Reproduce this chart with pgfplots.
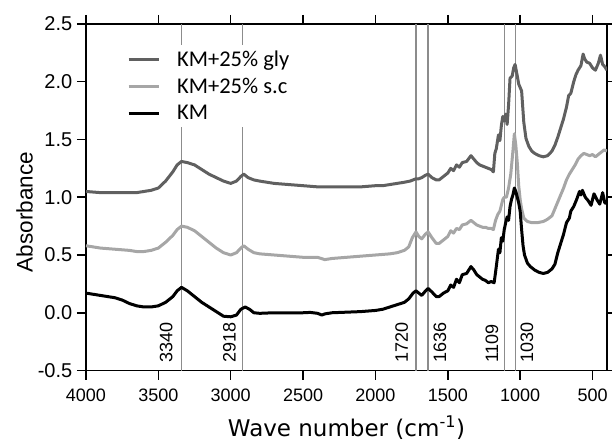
\documentclass[border=0pt]{standalone}
\usepackage{fontspec}
\setmainfont{Liberation Sans}
\newfontfamily\carlito{Carlito}
\newfontfamily\dejavu{DejaVu Sans}
\usepackage{pgfplots}
\pgfplotsset{compat=1.18}
\definecolor{glyc}{HTML}{606060}
\definecolor{scc}{HTML}{A6A6A6}
\definecolor{vlc}{HTML}{8C8C8C}

\pgfplotstableread{
w A
4000 1.05
3900 1.04
3800 1.04
3700 1.04
3650 1.04
3600 1.05
3550 1.06
3500 1.08
3450 1.14
3400 1.22
3370 1.28
3340 1.31
3300 1.30
3250 1.28
3200 1.24
3150 1.20
3100 1.17
3050 1.14
3000 1.12
2960 1.14
2930 1.18
2910 1.20
2880 1.17
2840 1.15
2800 1.14
2700 1.12
2600 1.11
2500 1.10
2400 1.09
2300 1.09
2200 1.09
2100 1.09
2000 1.10
1950 1.10
1900 1.11
1850 1.12
1800 1.13
1760 1.14
1720 1.16
1700 1.16
1680 1.17
1655 1.19
1636 1.20
1610 1.17
1580 1.15
1560 1.15
1530 1.18
1500 1.21
1480 1.25
1460 1.23
1440 1.28
1420 1.26
1400 1.30
1370 1.31
1340 1.36
1320 1.33
1300 1.30
1280 1.28
1260 1.27
1240 1.26
1220 1.25
1200 1.24
1185 1.22
1175 1.38
1165 1.42
1150 1.54
1140 1.49
1130 1.62
1120 1.70
1110 1.66
1100 1.72
1090 1.63
1080 1.80
1070 2.03
1055 2.05
1045 2.12
1035 2.15
1020 2.05
1010 1.98
1000 1.95
990 1.92
975 1.65
960 1.51
940 1.44
920 1.40
900 1.38
870 1.36
840 1.35
810 1.36
780 1.40
760 1.45
740 1.52
720 1.60
700 1.68
680 1.78
665 1.88
650 1.90
630 2.00
615 2.06
600 2.10
580 2.14
565 2.24
555 2.20
540 2.17
520 2.16
500 2.12
480 2.10
460 2.16
445 2.23
430 2.15
415 2.13
400 2.10
}\gly

\pgfplotstableread{
w A
4000 0.58
3900 0.56
3800 0.55
3700 0.54
3650 0.53
3600 0.53
3550 0.54
3500 0.56
3450 0.61
3400 0.67
3370 0.72
3340 0.75
3300 0.74
3250 0.71
3200 0.66
3150 0.61
3100 0.56
3050 0.52
3000 0.50
2960 0.52
2930 0.56
2910 0.58
2880 0.55
2840 0.52
2800 0.51
2700 0.50
2600 0.49
2500 0.48
2400 0.48
2350 0.46
2300 0.47
2200 0.48
2100 0.49
2000 0.50
1900 0.51
1850 0.52
1800 0.54
1770 0.57
1745 0.65
1720 0.70
1700 0.66
1680 0.64
1655 0.68
1636 0.70
1610 0.65
1580 0.60
1560 0.60
1530 0.63
1500 0.66
1480 0.71
1460 0.69
1440 0.73
1420 0.72
1400 0.76
1370 0.77
1340 0.80
1320 0.78
1300 0.76
1280 0.75
1260 0.74
1240 0.74
1220 0.73
1200 0.73
1185 0.72
1170 0.80
1155 0.85
1140 0.88
1120 0.98
1110 1.00
1095 1.00
1080 1.08
1065 1.20
1050 1.40
1040 1.55
1030 1.45
1020 1.30
1010 1.10
1000 0.98
990 0.90
975 0.82
950 0.79
920 0.78
880 0.78
840 0.79
810 0.81
780 0.84
760 0.90
740 0.96
720 1.02
700 1.08
680 1.15
660 1.20
640 1.24
620 1.28
600 1.33
580 1.36
560 1.38
540 1.37
520 1.36
500 1.37
480 1.35
460 1.37
440 1.39
420 1.41
400 1.40
}\sc

\pgfplotstableread{
w A
4000 0.17
3950 0.16
3900 0.15
3850 0.14
3800 0.13
3750 0.11
3700 0.08
3650 0.06
3600 0.05
3550 0.05
3500 0.06
3450 0.09
3400 0.14
3370 0.19
3340 0.22
3300 0.19
3250 0.14
3200 0.09
3150 0.05
3100 0.01
3050 -0.03
3000 -0.035
2960 -0.02
2930 0.03
2900 0.05
2870 0.03
2840 0.0
2800 -0.005
2700 0.0
2600 -0.002
2500 0.0
2450 0.003
2400 -0.005
2370 -0.02
2350 -0.01
2300 0.0
2200 0.005
2100 0.01
2000 0.02
1950 0.03
1900 0.05
1850 0.07
1800 0.09
1770 0.12
1740 0.17
1720 0.19
1700 0.17
1680 0.15
1660 0.18
1636 0.21
1610 0.18
1580 0.14
1560 0.14
1530 0.17
1500 0.19
1480 0.24
1460 0.22
1440 0.29
1420 0.26
1400 0.33
1370 0.34
1340 0.40
1320 0.37
1300 0.33
1280 0.31
1260 0.29
1240 0.28
1220 0.26
1200 0.27
1180 0.26
1170 0.35
1160 0.45
1150 0.55
1140 0.52
1130 0.65
1120 0.62
1110 0.72
1100 0.78
1090 0.83
1080 0.80
1070 0.92
1060 0.98
1050 1.02
1040 1.08
1030 1.05
1020 1.00
1010 0.95
1000 0.88
990 0.72
980 0.58
970 0.50
950 0.43
930 0.40
900 0.37
870 0.35
840 0.34
810 0.35
780 0.38
760 0.42
740 0.52
720 0.60
700 0.68
680 0.78
660 0.82
650 0.88
630 0.92
610 0.98
590 1.05
580 1.02
570 1.06
550 1.00
530 0.97
510 0.93
490 1.03
470 0.98
450 0.94
430 1.04
415 0.95
400 0.95
}\km

\begin{document}
\begin{tikzpicture}
\path[use as bounding box] (-86pt,-73.5pt) rectangle (526pt,370.5pt);
\begin{axis}[
  scale only axis, width=521pt, height=346.5pt,
  x dir=reverse, xmin=400, xmax=4000, ymin=-0.5, ymax=2.5,
  xtick={500,1000,1500,2000,2500,3000,3500,4000},
  ytick={-0.5,0,0.5,1,1.5,2,2.5},
  /pgf/number format/assume math mode=true,
  /pgf/number format/1000 sep={},
  yticklabel style={/pgf/number format/fixed, /pgf/number format/fixed zerofill, /pgf/number format/precision=1,
    font=\fontsize{20}{22}\selectfont, inner sep=0pt, xshift=-4.5pt},
  xticklabel style={font=\fontsize{18}{20}\selectfont, inner sep=0pt, yshift=-9pt},
  tick align=outside, major tick length=9pt,
  axis line style={line width=1.5pt},
  every tick/.style={black, line width=1.5pt},
  xlabel={\dejavu Wave number (cm\textsuperscript{-1})},
  xlabel style={font=\fontsize{23}{26}\selectfont, at={(axis description cs:0.5,0)}, anchor=base, yshift=-66pt},
  ylabel={Absorbance},
  ylabel style={font=\fontsize{22.5}{26}\selectfont, at={(axis description cs:-0.118,0.457)}, anchor=center},
  legend image code/.code={\draw[#1, line width=3pt] (0pt,0pt) -- (30pt,0pt);},
  legend cell align=left,
  legend style={at={(rel axis cs:0.0595,0.9394)}, anchor=north west, draw=none, fill=white,
    font=\carlito\fontsize{22.5}{24}\selectfont, text depth=0.21em,
    inner xsep=10pt, inner ysep=6pt, column sep=17pt, row sep=10pt,
    nodes={inner sep=0pt}, cells={anchor=west}},
]
\addplot[vlc, line width=1.3pt, forget plot] coordinates {(3340,-0.5) (3340,2.5)};
\addplot[vlc, line width=1.3pt, forget plot] coordinates {(2918,-0.5) (2918,2.5)};
\addplot[vlc, line width=1.3pt, forget plot] coordinates {(1720,-0.5) (1720,2.5)};
\addplot[vlc, line width=1.3pt, forget plot] coordinates {(1636,-0.5) (1636,2.5)};
\addplot[vlc, line width=1.3pt, forget plot] coordinates {(1109,-0.5) (1109,2.5)};
\addplot[vlc, line width=1.3pt, forget plot] coordinates {(1030,-0.5) (1030,2.5)};
\addplot[glyc, line width=3pt, line join=round] table[x=w,y=A] {\gly};
\addlegendentry{KM+25\% gly}
\addplot[scc, line width=3pt, line join=round] table[x=w,y=A] {\sc};
\addlegendentry{KM+25\% s.c}
\addplot[black, line width=3pt, line join=round] table[x=w,y=A] {\km};
\addlegendentry{KM}
\begin{scope}[every node/.style={rotate=90, inner sep=0pt, font=\fontsize{18}{20}\selectfont}]
\node[anchor=south west, xshift=7.5pt, yshift=8.7pt] at (axis cs:3340,-0.5) {3340};
\node[anchor=south west, xshift=7.5pt, yshift=6.5pt] at (axis cs:2918,-0.5) {2918};
\node[anchor=south west, xshift=7.5pt, yshift=7.7pt] at (axis cs:1720,-0.5) {1720};
\node[anchor=north west, xshift=7.5pt, yshift=-5.2pt] at (axis cs:1636,-0.5) {1636};
\node[anchor=south west, xshift=7.5pt, yshift=6pt] at (axis cs:1109,-0.5) {1109};
\node[anchor=north west, xshift=7.5pt, yshift=-4.5pt] at (axis cs:1030,-0.5) {1030};
\end{scope}
\end{axis}
\end{tikzpicture}
\end{document}
